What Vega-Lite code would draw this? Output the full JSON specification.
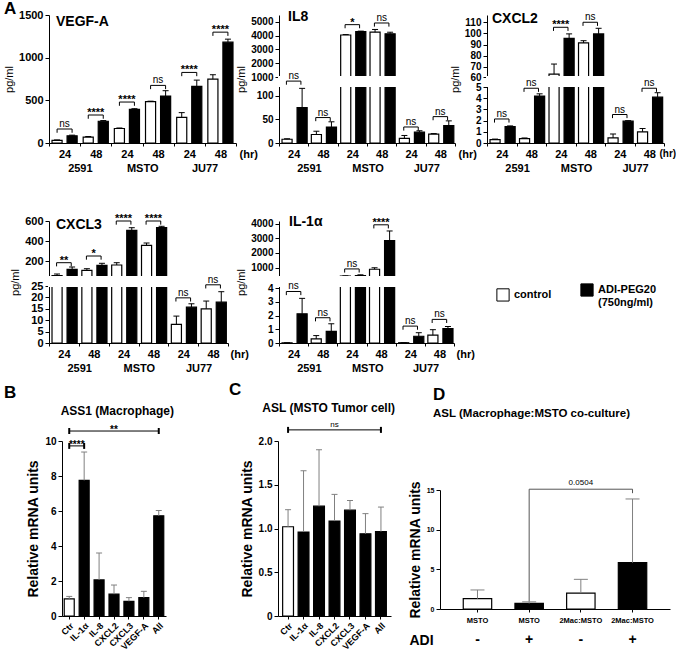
{
"$schema": "https://vega.github.io/schema/vega-lite/v6.json",
"padding": {"left": 3, "top": 0, "right": 0, "bottom": 0},
"config": {
  "font": "Liberation Sans",
  "view": {"stroke": null},
  "axis": {"domainColor": "black", "tickColor": "black", "labelColor": "black", "titleColor": "black", "labelFontWeight": "bold", "labelFontSize": 11, "titleFontWeight": "normal", "titleFontSize": 11, "grid": false, "tickSize": 4, "labelPadding": 2, "labelOverlap": false, "labelSeparation": -30, "labelFlush": false},
  "title": {"color": "black", "fontWeight": "bold", "fontSize": 14, "subtitleColor": "black", "subtitleFontWeight": "bold", "subtitleFontSize": 12, "subtitlePadding": 4},
  "legend": {"labelColor": "black"},
  "text": {"color": "black"}
},
"datasets": {
  "A": [
    {"p": "VEGF-A", "k": "2591 24", "g": "control", "v": 30, "hi": 36},
    {"p": "VEGF-A", "k": "2591 24", "g": "ADI-PEG20", "v": 85, "hi": 92},
    {"p": "VEGF-A", "k": "2591 48", "g": "control", "v": 70, "hi": 76},
    {"p": "VEGF-A", "k": "2591 48", "g": "ADI-PEG20", "v": 255, "hi": 263},
    {"p": "VEGF-A", "k": "MSTO 24", "g": "control", "v": 170, "hi": 176},
    {"p": "VEGF-A", "k": "MSTO 24", "g": "ADI-PEG20", "v": 394, "hi": 402},
    {"p": "VEGF-A", "k": "MSTO 48", "g": "control", "v": 485, "hi": 490},
    {"p": "VEGF-A", "k": "MSTO 48", "g": "ADI-PEG20", "v": 550, "hi": 613},
    {"p": "VEGF-A", "k": "JU77 24", "g": "control", "v": 300, "hi": 356},
    {"p": "VEGF-A", "k": "JU77 24", "g": "ADI-PEG20", "v": 663, "hi": 737},
    {"p": "VEGF-A", "k": "JU77 48", "g": "control", "v": 749, "hi": 800},
    {"p": "VEGF-A", "k": "JU77 48", "g": "ADI-PEG20", "v": 1182, "hi": 1217},
    {"p": "IL8", "k": "2591 24", "g": "control", "v": 8, "hi": 9},
    {"p": "IL8", "k": "2591 24", "g": "ADI-PEG20", "v": 75, "hi": 116},
    {"p": "IL8", "k": "2591 48", "g": "control", "v": 18, "hi": 25},
    {"p": "IL8", "k": "2591 48", "g": "ADI-PEG20", "v": 34, "hi": 45},
    {"p": "IL8", "k": "MSTO 24", "g": "control", "v": 4050, "hi": 4080},
    {"p": "IL8", "k": "MSTO 24", "g": "ADI-PEG20", "v": 4300, "hi": 4330},
    {"p": "IL8", "k": "MSTO 48", "g": "control", "v": 4250, "hi": 4450},
    {"p": "IL8", "k": "MSTO 48", "g": "ADI-PEG20", "v": 4140, "hi": 4250},
    {"p": "IL8", "k": "JU77 24", "g": "control", "v": 10, "hi": 16},
    {"p": "IL8", "k": "JU77 24", "g": "ADI-PEG20", "v": 23, "hi": 26},
    {"p": "IL8", "k": "JU77 48", "g": "control", "v": 19, "hi": 20},
    {"p": "IL8", "k": "JU77 48", "g": "ADI-PEG20", "v": 37, "hi": 47},
    {"p": "CXCL2", "k": "2591 24", "g": "control", "v": 0.3, "hi": 0.35},
    {"p": "CXCL2", "k": "2591 24", "g": "ADI-PEG20", "v": 1.47, "hi": 1.53},
    {"p": "CXCL2", "k": "2591 48", "g": "control", "v": 0.4, "hi": 0.45},
    {"p": "CXCL2", "k": "2591 48", "g": "ADI-PEG20", "v": 4.2, "hi": 4.4},
    {"p": "CXCL2", "k": "MSTO 24", "g": "control", "v": 63.6, "hi": 72.6},
    {"p": "CXCL2", "k": "MSTO 24", "g": "ADI-PEG20", "v": 95.6, "hi": 99.6},
    {"p": "CXCL2", "k": "MSTO 48", "g": "control", "v": 91.5, "hi": 93.5},
    {"p": "CXCL2", "k": "MSTO 48", "g": "ADI-PEG20", "v": 99.6, "hi": 104.6},
    {"p": "CXCL2", "k": "JU77 24", "g": "control", "v": 0.45, "hi": 0.8},
    {"p": "CXCL2", "k": "JU77 24", "g": "ADI-PEG20", "v": 1.95, "hi": 2.0},
    {"p": "CXCL2", "k": "JU77 48", "g": "control", "v": 1.0, "hi": 1.3},
    {"p": "CXCL2", "k": "JU77 48", "g": "ADI-PEG20", "v": 4.1, "hi": 4.5},
    {"p": "CXCL3", "k": "2591 24", "g": "control", "v": 55, "hi": 70},
    {"p": "CXCL3", "k": "2591 24", "g": "ADI-PEG20", "v": 117, "hi": 140},
    {"p": "CXCL3", "k": "2591 48", "g": "control", "v": 107, "hi": 123},
    {"p": "CXCL3", "k": "2591 48", "g": "ADI-PEG20", "v": 157, "hi": 177},
    {"p": "CXCL3", "k": "MSTO 24", "g": "control", "v": 160, "hi": 183},
    {"p": "CXCL3", "k": "MSTO 24", "g": "ADI-PEG20", "v": 507, "hi": 533},
    {"p": "CXCL3", "k": "MSTO 48", "g": "control", "v": 357, "hi": 380},
    {"p": "CXCL3", "k": "MSTO 48", "g": "ADI-PEG20", "v": 533, "hi": 547},
    {"p": "CXCL3", "k": "JU77 24", "g": "control", "v": 8.2, "hi": 11.8},
    {"p": "CXCL3", "k": "JU77 24", "g": "ADI-PEG20", "v": 15.7, "hi": 17.2},
    {"p": "CXCL3", "k": "JU77 48", "g": "control", "v": 15, "hi": 18.4},
    {"p": "CXCL3", "k": "JU77 48", "g": "ADI-PEG20", "v": 17.9, "hi": 22.5},
    {"p": "IL1a", "k": "2591 24", "g": "control", "v": 0.02, "hi": 0.02},
    {"p": "IL1a", "k": "2591 24", "g": "ADI-PEG20", "v": 2.13, "hi": 3.25},
    {"p": "IL1a", "k": "2591 48", "g": "control", "v": 0.3, "hi": 0.54},
    {"p": "IL1a", "k": "2591 48", "g": "ADI-PEG20", "v": 0.84, "hi": 1.4},
    {"p": "IL1a", "k": "MSTO 24", "g": "control", "v": 420, "hi": 440},
    {"p": "IL1a", "k": "MSTO 24", "g": "ADI-PEG20", "v": 450, "hi": 510},
    {"p": "IL1a", "k": "MSTO 48", "g": "control", "v": 890, "hi": 990},
    {"p": "IL1a", "k": "MSTO 48", "g": "ADI-PEG20", "v": 2850, "hi": 3500},
    {"p": "IL1a", "k": "JU77 24", "g": "control", "v": 0.02, "hi": 0.02},
    {"p": "IL1a", "k": "JU77 24", "g": "ADI-PEG20", "v": 0.49, "hi": 0.75},
    {"p": "IL1a", "k": "JU77 48", "g": "control", "v": 0.57, "hi": 0.97},
    {"p": "IL1a", "k": "JU77 48", "g": "ADI-PEG20", "v": 1.05, "hi": 1.2}
  ],
  "Abr": [
    {"p": "VEGF-A", "k": "2591 24", "y": 164, "t": "ns"},
    {"p": "VEGF-A", "k": "2591 48", "y": 328, "t": "****"},
    {"p": "VEGF-A", "k": "MSTO 24", "y": 480, "t": "****"},
    {"p": "VEGF-A", "k": "MSTO 48", "y": 675, "t": "ns"},
    {"p": "VEGF-A", "k": "JU77 24", "y": 827, "t": "****"},
    {"p": "VEGF-A", "k": "JU77 48", "y": 1299, "t": "****"},
    {"p": "IL8", "k": "2591 24", "y": 600, "t": "ns"},
    {"p": "IL8", "k": "2591 48", "y": 54, "t": "ns"},
    {"p": "IL8", "k": "MSTO 24", "y": 4800, "t": "*"},
    {"p": "IL8", "k": "MSTO 48", "y": 4920, "t": "ns"},
    {"p": "IL8", "k": "JU77 24", "y": 34, "t": "ns"},
    {"p": "IL8", "k": "JU77 48", "y": 56, "t": "ns"},
    {"p": "CXCL2", "k": "2591 24", "y": 2.15, "t": "ns"},
    {"p": "CXCL2", "k": "2591 48", "y": 4.9, "t": "ns"},
    {"p": "CXCL2", "k": "MSTO 24", "y": 105.5, "t": "****"},
    {"p": "CXCL2", "k": "MSTO 48", "y": 110, "t": "ns"},
    {"p": "CXCL2", "k": "JU77 24", "y": 2.55, "t": "ns"},
    {"p": "CXCL2", "k": "JU77 48", "y": 4.9, "t": "ns"},
    {"p": "CXCL3", "k": "2591 24", "y": 183, "t": "**"},
    {"p": "CXCL3", "k": "2591 48", "y": 250, "t": "*"},
    {"p": "CXCL3", "k": "MSTO 24", "y": 600, "t": "****"},
    {"p": "CXCL3", "k": "MSTO 48", "y": 600, "t": "****"},
    {"p": "CXCL3", "k": "JU77 24", "y": 19.8, "t": "ns"},
    {"p": "CXCL3", "k": "JU77 48", "y": 27, "t": "ns"},
    {"p": "IL1a", "k": "2591 24", "y": 3.75, "t": "ns"},
    {"p": "IL1a", "k": "2591 48", "y": 1.84, "t": "ns"},
    {"p": "IL1a", "k": "MSTO 24", "y": 910, "t": "ns"},
    {"p": "IL1a", "k": "MSTO 48", "y": 3920, "t": "****"},
    {"p": "IL1a", "k": "JU77 24", "y": 1.23, "t": "ns"},
    {"p": "IL1a", "k": "JU77 48", "y": 1.72, "t": "ns"}
  ],
  "B": [
    {"k": "Ctr", "g": "control", "v": 0.98, "hi": 1.12},
    {"k": "IL-1α", "g": "ADI-PEG20", "v": 7.75, "hi": 9.37},
    {"k": "IL-8", "g": "ADI-PEG20", "v": 2.06, "hi": 3.6},
    {"k": "CXCL2", "g": "ADI-PEG20", "v": 1.25, "hi": 1.77},
    {"k": "CXCL3", "g": "ADI-PEG20", "v": 0.84, "hi": 1.05},
    {"k": "VEGF-A", "g": "ADI-PEG20", "v": 1.05, "hi": 1.41},
    {"k": "All", "g": "ADI-PEG20", "v": 5.73, "hi": 6.03}
  ],
  "C": [
    {"k": "Ctr", "g": "control", "v": 1.02, "hi": 1.215},
    {"k": "IL-1α", "g": "ADI-PEG20", "v": 0.96, "hi": 1.66},
    {"k": "IL-8", "g": "ADI-PEG20", "v": 1.255, "hi": 1.9},
    {"k": "CXCL2", "g": "ADI-PEG20", "v": 1.085, "hi": 1.39},
    {"k": "CXCL3", "g": "ADI-PEG20", "v": 1.21, "hi": 1.32},
    {"k": "VEGF-A", "g": "ADI-PEG20", "v": 0.94, "hi": 1.17},
    {"k": "All", "g": "ADI-PEG20", "v": 0.965, "hi": 1.245}
  ],
  "D": [
    {"k": "MSTO -", "g": "control", "adi": "-", "v": 1.3, "hi": 2.4},
    {"k": "MSTO +", "g": "ADI-PEG20", "adi": "+", "v": 0.7, "hi": 0.9},
    {"k": "2Mac:MSTO -", "g": "control", "adi": "-", "v": 2.0, "hi": 3.74},
    {"k": "2Mac:MSTO +", "g": "ADI-PEG20", "adi": "+", "v": 5.84, "hi": 13.87}
  ]
},
"resolve": {"scale": {"fill": "independent"}, "legend": {"fill": "independent"}},
"spacing": 7,
"vconcat": [
 {
  "spacing": 40,
  "resolve": {"scale": {"fill": "independent"}, "legend": {"fill": "independent"}},
  "vconcat": [
   {
    "hconcat": [
     {
      "width": 200, "height": 128,
      "title": {"text": "VEGF-A", "anchor": "start", "frame": "group", "dx": 7, "dy": 20, "offset": 0},
      "layer": [
         {"data": {"name": "A"}, "transform": [{"filter": "datum.p == 'VEGF-A'"}],
          "encoding": {
            "x": {"field": "k", "type": "nominal", "scale": {"domain": ["2591 24", "2591 48", "MSTO 24", "MSTO 48", "JU77 24", "JU77 48"], "range": [0, 187], "paddingInner": 0, "paddingOuter": 0},
                  "axis": {"title": "(hr)", "labelExpr": "split(datum.label, ' ')[1] == '24' ? ['24', '\u200b\u00a0\u00a0\u00a0\u00a0\u00a0\u00a0\u00a0\u00a0\u00a0\u00a0' + split(datum.label, ' ')[0]] : split(datum.label, ' ')[1]", "labelLineHeight": 14, "labelAngle": 0, "tickBand": "extent", "tickSize": 3, "titleX": 190, "titleY": 5, "titleAlign": "left", "titleBaseline": "top", "titleFontWeight": "bold"}},
            "xOffset": {"field": "g", "type": "nominal", "scale": {"domain": ["control", "ADI-PEG20"], "paddingInner": 0.33, "paddingOuter": 0.2}}
          },
          "layer": [
            {"mark": {"type": "bar", "stroke": "black", "strokeWidth": 1.2, "opacity": 1},
             "encoding": {"y": {"field": "v", "type": "quantitative", "stack": null, "scale": {"domain": [0, 1500], "nice": false}, "axis": {"values": [0, 500, 1000, 1500], "tickCount": 30, "format": "d", "labelOverlap": false, "title": "pg/ml"}},
                          "fill": {"field": "g", "type": "nominal", "scale": {"domain": ["control", "ADI-PEG20"], "range": ["white", "black"]}, "legend": null}}},
            {"mark": {"type": "rule", "color": "black"}, "encoding": {"y": {"field": "v", "type": "quantitative"}, "y2": {"field": "hi"}}},
            {"mark": {"type": "tick", "color": "black", "size": 6, "thickness": 1, "opacity": 1}, "encoding": {"y": {"field": "hi", "type": "quantitative"}}}
          ]},
         {"data": {"name": "Abr"}, "transform": [{"filter": "datum.p == 'VEGF-A'"}],
          "encoding": {"x": {"field": "k", "type": "nominal"}, "y": {"field": "y", "type": "quantitative"}},
          "layer": [
            {"mark": {"type": "point", "shape": "M-1,0.5V0H1V0.5", "size": 225, "filled": false, "color": "black", "strokeWidth": 1, "opacity": 1}},
            {"transform": [{"filter": "datum.t == 'ns'"}], "mark": {"type": "text", "fontSize": 10, "dy": -2, "baseline": "alphabetic"}, "encoding": {"text": {"field": "t"}}},
            {"transform": [{"filter": "datum.t != 'ns'"}], "mark": {"type": "text", "fontSize": 11, "fontWeight": "bold", "dy": 1, "baseline": "alphabetic"}, "encoding": {"text": {"field": "t"}}}
          ]}
      ]
     },
     {
      "width": 178, "height": 128,
      "title": {"text": "IL8", "anchor": "start", "frame": "group", "dx": 9, "dy": 11, "offset": 0},
      "layer": [
         {"data": {"name": "A"}, "transform": [{"filter": "datum.p == 'IL8'"}],
          "encoding": {
            "x": {"field": "k", "type": "nominal", "scale": {"domain": ["2591 24", "2591 48", "MSTO 24", "MSTO 48", "JU77 24", "JU77 48"], "range": [0, 176], "paddingInner": 0, "paddingOuter": 0},
                  "axis": {"title": "(hr)", "labelExpr": "split(datum.label, ' ')[1] == '24' ? ['24', '\u200b\u00a0\u00a0\u00a0\u00a0\u00a0\u00a0\u00a0\u00a0\u00a0\u00a0' + split(datum.label, ' ')[0]] : split(datum.label, ' ')[1]", "labelLineHeight": 14, "labelAngle": 0, "tickBand": "extent", "tickSize": 3, "titleX": 179, "titleY": 5, "titleAlign": "left", "titleBaseline": "top", "titleFontWeight": "bold"}},
            "xOffset": {"field": "g", "type": "nominal", "scale": {"domain": ["control", "ADI-PEG20"], "paddingInner": 0.33, "paddingOuter": 0.2}}
          },
          "layer": [
            {"mark": {"type": "bar", "stroke": "black", "strokeWidth": 1.2, "opacity": 1},
             "encoding": {"y": {"field": "v", "type": "quantitative", "stack": null, "scale": {"domain": [0, 121, 1000, 5500], "range": [128, 71, 62, 0], "nice": false, "zero": false}, "axis": {"values": [0, 50, 100, 1000, 2000, 3000, 4000, 5000], "tickCount": 30, "format": "d", "labelOverlap": false, "labelFontSize": 10, "title": "pg/ml"}},
                          "fill": {"field": "g", "type": "nominal", "scale": {"domain": ["control", "ADI-PEG20"], "range": ["white", "black"]}, "legend": null}}},
            {"mark": {"type": "rule", "color": "black"}, "encoding": {"y": {"field": "v", "type": "quantitative"}, "y2": {"field": "hi"}}},
            {"mark": {"type": "tick", "color": "black", "size": 6, "thickness": 1, "opacity": 1}, "encoding": {"y": {"field": "hi", "type": "quantitative"}}}
          ]},
         {"data": {"values": [{}]}, "mark": {"type": "rect", "fill": "white", "stroke": "white", "strokeWidth": 2}, "encoding": {"y": {"datum": 121}, "y2": {"datum": 1000}}},
         {"data": {"name": "Abr"}, "transform": [{"filter": "datum.p == 'IL8'"}],
          "encoding": {"x": {"field": "k", "type": "nominal"}, "y": {"field": "y", "type": "quantitative"}},
          "layer": [
            {"mark": {"type": "point", "shape": "M-1,0.5V0H1V0.5", "size": 210, "filled": false, "color": "black", "strokeWidth": 1, "opacity": 1}},
            {"transform": [{"filter": "datum.t == 'ns'"}], "mark": {"type": "text", "fontSize": 10, "dy": -2, "baseline": "alphabetic"}, "encoding": {"text": {"field": "t"}}},
            {"transform": [{"filter": "datum.t != 'ns'"}], "mark": {"type": "text", "fontSize": 11, "fontWeight": "bold", "dy": 1, "baseline": "alphabetic"}, "encoding": {"text": {"field": "t"}}}
          ]}
      ]
     },
     {
      "width": 177, "height": 128,
      "title": {"text": "CXCL2", "anchor": "start", "frame": "group", "dx": 5, "dy": 14, "offset": 0},
      "layer": [
         {"data": {"name": "A"}, "transform": [{"filter": "datum.p == 'CXCL2'"}],
          "encoding": {
            "x": {"field": "k", "type": "nominal", "scale": {"domain": ["2591 24", "2591 48", "MSTO 24", "MSTO 48", "JU77 24", "JU77 48"], "range": [0, 177], "paddingInner": 0, "paddingOuter": 0},
                  "axis": {"title": "(hr)", "labelExpr": "split(datum.label, ' ')[1] == '24' ? ['24', '\u200b\u00a0\u00a0\u00a0\u00a0\u00a0\u00a0\u00a0\u00a0\u00a0\u00a0' + split(datum.label, ' ')[0]] : split(datum.label, ' ')[1]", "labelLineHeight": 14, "labelAngle": 0, "tickBand": "extent", "tickSize": 3, "titleX": 172, "titleY": 5, "titleAlign": "left", "titleBaseline": "top", "titleFontWeight": "bold", "titleFontSize": 10}},
            "xOffset": {"field": "g", "type": "nominal", "scale": {"domain": ["control", "ADI-PEG20"], "paddingInner": 0.33, "paddingOuter": 0.2}}
          },
          "layer": [
            {"mark": {"type": "bar", "stroke": "black", "strokeWidth": 1.2, "opacity": 1},
             "encoding": {"y": {"field": "v", "type": "quantitative", "stack": null, "scale": {"domain": [0, 5.1, 61, 116.5], "range": [128, 71, 62, 0], "nice": false, "zero": false}, "axis": {"values": [0, 1, 2, 3, 4, 5, 60, 70, 80, 90, 100, 110], "tickCount": 30, "format": "d", "labelOverlap": false, "labelFontSize": 10, "title": "pg/ml"}},
                          "fill": {"field": "g", "type": "nominal", "scale": {"domain": ["control", "ADI-PEG20"], "range": ["white", "black"]}, "legend": null}}},
            {"mark": {"type": "rule", "color": "black"}, "encoding": {"y": {"field": "v", "type": "quantitative"}, "y2": {"field": "hi"}}},
            {"mark": {"type": "tick", "color": "black", "size": 6, "thickness": 1, "opacity": 1}, "encoding": {"y": {"field": "hi", "type": "quantitative"}}}
          ]},
         {"data": {"values": [{}]}, "mark": {"type": "rect", "fill": "white", "stroke": "white", "strokeWidth": 2}, "encoding": {"y": {"datum": 5.1}, "y2": {"datum": 61}}},
         {"data": {"name": "Abr"}, "transform": [{"filter": "datum.p == 'CXCL2'"}],
          "encoding": {"x": {"field": "k", "type": "nominal"}, "y": {"field": "y", "type": "quantitative"}},
          "layer": [
            {"mark": {"type": "point", "shape": "M-1,0.5V0H1V0.5", "size": 210, "filled": false, "color": "black", "strokeWidth": 1, "opacity": 1}},
            {"transform": [{"filter": "datum.t == 'ns'"}], "mark": {"type": "text", "fontSize": 10, "dy": -2, "baseline": "alphabetic"}, "encoding": {"text": {"field": "t"}}},
            {"transform": [{"filter": "datum.t != 'ns'"}], "mark": {"type": "text", "fontSize": 11, "fontWeight": "bold", "dy": 1, "baseline": "alphabetic"}, "encoding": {"text": {"field": "t"}}}
          ]}
      ]
     }
    ],
    "bounds": "flush",
    "spacing": 30,
    "title": {"text": "A", "anchor": "start", "frame": "group", "dx": -45, "fontSize": 17, "offset": -9},
    "resolve": {"scale": {"fill": "independent"}, "legend": {"fill": "independent"}}
   },
   {
    "hconcat": [
     {
      "width": 200, "height": 122,
      "title": {"text": "CXCL3", "anchor": "start", "frame": "group", "dx": 7, "dy": 19, "offset": 0},
      "layer": [
         {"data": {"name": "A"}, "transform": [{"filter": "datum.p == 'CXCL3'"}],
          "encoding": {
            "x": {"field": "k", "type": "nominal", "scale": {"domain": ["2591 24", "2591 48", "MSTO 24", "MSTO 48", "JU77 24", "JU77 48"], "range": [0, 179], "paddingInner": 0, "paddingOuter": 0},
                  "axis": {"title": "(hr)", "labelExpr": "split(datum.label, ' ')[1] == '24' ? ['24', '\u200b\u00a0\u00a0\u00a0\u00a0\u00a0\u00a0\u00a0\u00a0\u00a0\u00a0' + split(datum.label, ' ')[0]] : split(datum.label, ' ')[1]", "labelLineHeight": 14, "labelAngle": 0, "tickBand": "extent", "tickSize": 3, "titleX": 181, "titleY": 5, "titleAlign": "left", "titleBaseline": "top", "titleFontWeight": "bold"}},
            "xOffset": {"field": "g", "type": "nominal", "scale": {"domain": ["control", "ADI-PEG20"], "paddingInner": 0.33, "paddingOuter": 0.2}}
          },
          "layer": [
            {"mark": {"type": "bar", "stroke": "black", "strokeWidth": 1.2, "opacity": 1},
             "encoding": {"y": {"field": "v", "type": "quantitative", "stack": null, "scale": {"domain": [0, 25, 40, 600], "range": [122, 65, 56, 0], "nice": false, "zero": false}, "axis": {"values": [0, 5, 10, 15, 20, 25, 200, 400, 600], "tickCount": 30, "format": "d", "labelOverlap": false, "title": "pg/ml"}},
                          "fill": {"field": "g", "type": "nominal", "scale": {"domain": ["control", "ADI-PEG20"], "range": ["white", "black"]}, "legend": null}}},
            {"mark": {"type": "rule", "color": "black"}, "encoding": {"y": {"field": "v", "type": "quantitative"}, "y2": {"field": "hi"}}},
            {"mark": {"type": "tick", "color": "black", "size": 6, "thickness": 1, "opacity": 1}, "encoding": {"y": {"field": "hi", "type": "quantitative"}}}
          ]},
         {"data": {"values": [{}]}, "mark": {"type": "rect", "fill": "white", "stroke": "white", "strokeWidth": 2}, "encoding": {"y": {"datum": 25}, "y2": {"datum": 40}}},
         {"data": {"name": "Abr"}, "transform": [{"filter": "datum.p == 'CXCL3'"}],
          "encoding": {"x": {"field": "k", "type": "nominal"}, "y": {"field": "y", "type": "quantitative"}},
          "layer": [
            {"mark": {"type": "point", "shape": "M-1,0.5V0H1V0.5", "size": 215, "filled": false, "color": "black", "strokeWidth": 1, "opacity": 1}},
            {"transform": [{"filter": "datum.t == 'ns'"}], "mark": {"type": "text", "fontSize": 10, "dy": -2, "baseline": "alphabetic"}, "encoding": {"text": {"field": "t"}}},
            {"transform": [{"filter": "datum.t != 'ns'"}], "mark": {"type": "text", "fontSize": 11, "fontWeight": "bold", "dy": 1, "baseline": "alphabetic"}, "encoding": {"text": {"field": "t"}}}
          ]}
      ]
     },
     {
      "width": 178, "height": 122,
      "title": {"text": "IL-1α", "anchor": "start", "frame": "group", "dx": 10, "dy": 12, "offset": 0},
      "layer": [
         {"data": {"name": "A"}, "transform": [{"filter": "datum.p == 'IL1a'"}],
          "encoding": {
            "x": {"field": "k", "type": "nominal", "scale": {"domain": ["2591 24", "2591 48", "MSTO 24", "MSTO 48", "JU77 24", "JU77 48"], "range": [0, 175], "paddingInner": 0, "paddingOuter": 0},
                  "axis": {"title": "(hr)", "labelExpr": "split(datum.label, ' ')[1] == '24' ? ['24', '\u200b\u00a0\u00a0\u00a0\u00a0\u00a0\u00a0\u00a0\u00a0\u00a0\u00a0' + split(datum.label, ' ')[0]] : split(datum.label, ' ')[1]", "labelLineHeight": 14, "labelAngle": 0, "tickBand": "extent", "tickSize": 3, "titleX": 177, "titleY": 5, "titleAlign": "left", "titleBaseline": "top", "titleFontWeight": "bold"}},
            "xOffset": {"field": "g", "type": "nominal", "scale": {"domain": ["control", "ADI-PEG20"], "paddingInner": 0.33, "paddingOuter": 0.2}}
          },
          "layer": [
            {"mark": {"type": "bar", "stroke": "black", "strokeWidth": 1.2, "opacity": 1},
             "encoding": {"y": {"field": "v", "type": "quantitative", "stack": null, "scale": {"domain": [0, 4.15, 360, 4180], "range": [122, 65, 56, 0], "nice": false, "zero": false}, "axis": {"values": [0, 1, 2, 3, 4, 1000, 2000, 3000, 4000], "tickCount": 30, "format": "d", "labelOverlap": false, "labelFontSize": 10, "title": "pg/ml"}},
                          "fill": {"field": "g", "type": "nominal", "scale": {"domain": ["control", "ADI-PEG20"], "range": ["white", "black"]},
                                   "legend": {"orient": "none", "legendX": 217, "legendY": 62, "direction": "horizontal", "title": null, "symbolType": "square", "symbolSize": 150, "symbolStrokeColor": "black", "symbolStrokeWidth": 1, "labelFontSize": 11, "labelFontWeight": "bold", "columnPadding": 26, "labelExpr": "datum.label == 'ADI-PEG20' ? ['ADI-PEG20', '(750ng/ml)'] : datum.label"}}}},
            {"mark": {"type": "rule", "color": "black"}, "encoding": {"y": {"field": "v", "type": "quantitative"}, "y2": {"field": "hi"}}},
            {"mark": {"type": "tick", "color": "black", "size": 6, "thickness": 1, "opacity": 1}, "encoding": {"y": {"field": "hi", "type": "quantitative"}}}
          ]},
         {"data": {"values": [{}]}, "mark": {"type": "rect", "fill": "white", "stroke": "white", "strokeWidth": 2}, "encoding": {"y": {"datum": 4.15}, "y2": {"datum": 360}}},
         {"data": {"name": "Abr"}, "transform": [{"filter": "datum.p == 'IL1a'"}],
          "encoding": {"x": {"field": "k", "type": "nominal"}, "y": {"field": "y", "type": "quantitative"}},
          "layer": [
            {"mark": {"type": "point", "shape": "M-1,0.5V0H1V0.5", "size": 210, "filled": false, "color": "black", "strokeWidth": 1, "opacity": 1}},
            {"transform": [{"filter": "datum.t == 'ns'"}], "mark": {"type": "text", "fontSize": 10, "dy": -2, "baseline": "alphabetic"}, "encoding": {"text": {"field": "t"}}},
            {"transform": [{"filter": "datum.t != 'ns'"}], "mark": {"type": "text", "fontSize": 11, "fontWeight": "bold", "dy": 1, "baseline": "alphabetic"}, "encoding": {"text": {"field": "t"}}}
          ]}
      ]
     }
    ],
    "bounds": "flush",
    "spacing": 30,
    "resolve": {"scale": {"fill": "independent"}, "legend": {"fill": "independent"}}
   }
  ]
 },
 {
  "hconcat": [
   {
    "width": 209, "height": 175,
    "title": {"text": "B", "subtitle": "\u200b\u00a0\u00a0\u00a0\u00a0\u00a0\u00a0\u00a0\u00a0\u00a0\u00a0\u00a0\u00a0\u00a0\u00a0\u00a0\u00a0\u00a0ASS1 (Macrophage)", "anchor": "start", "frame": "group", "dx": -45, "fontSize": 17, "offset": 6},
    "layer": [
       {"data": {"name": "B"},
        "encoding": {"x": {"field": "k", "type": "nominal", "scale": {"domain": ["Ctr", "IL-1α", "IL-8", "CXCL2", "CXCL3", "VEGF-A", "All"], "range": [13, 117], "paddingInner": 0.33, "paddingOuter": 0.15}, "axis": {"title": null, "labelAngle": -45, "labelFontSize": 9, "tickSize": 3}}},
        "layer": [
          {"mark": {"type": "bar", "stroke": "black", "strokeWidth": 1.2, "opacity": 1},
           "encoding": {"y": {"field": "v", "type": "quantitative", "stack": null, "scale": {"domain": [0, 10], "nice": false}, "axis": {"values": [0, 2, 4, 6, 8, 10], "tickCount": 30, "format": "d", "labelOverlap": false, "offset": -13, "title": "Relative mRNA units", "titleFontSize": 14, "titleFontWeight": "bold", "labelFontSize": 10}},
                        "fill": {"field": "g", "type": "nominal", "scale": {"domain": ["control", "ADI-PEG20"], "range": ["white", "black"]}, "legend": null}}},
          {"mark": {"type": "rule", "color": "#808080"}, "encoding": {"y": {"field": "v", "type": "quantitative"}, "y2": {"field": "hi"}}},
          {"mark": {"type": "tick", "color": "#808080", "size": 6, "thickness": 1, "opacity": 1}, "encoding": {"y": {"field": "hi", "type": "quantitative"}}}
        ]},
       {"data": {"values": [{"a": "Ctr", "b": "IL-1α", "y": 9.72}, {"a": "Ctr", "b": "All", "y": 10.57}]},
        "encoding": {"y": {"field": "y", "type": "quantitative"}},
        "layer": [
          {"mark": {"type": "rule", "color": "black"}, "encoding": {"x": {"field": "a", "type": "nominal"}, "x2": {"field": "b"}}},
          {"mark": {"type": "point", "shape": "M0,-1V1", "size": 36, "filled": false, "color": "black", "opacity": 1}, "encoding": {"x": {"field": "a", "type": "nominal"}}},
          {"mark": {"type": "point", "shape": "M0,-1V1", "size": 36, "filled": false, "color": "black", "opacity": 1}, "encoding": {"x": {"field": "b", "type": "nominal"}}}
        ]},
       {"data": {"values": [{"x": "CXCL2", "y": 10.57, "t": "**"}]}, "mark": {"type": "text", "fontSize": 10, "fontWeight": "bold", "dy": 2, "baseline": "alphabetic"},
        "encoding": {"x": {"field": "x", "type": "nominal"}, "y": {"field": "y", "type": "quantitative"}, "text": {"field": "t"}}},
       {"data": {"values": [{"x": "Ctr", "y": 9.72, "t": "****"}]}, "mark": {"type": "text", "fontSize": 10, "fontWeight": "bold", "dy": 2, "dx": 7.5, "baseline": "alphabetic"},
        "encoding": {"x": {"field": "x", "type": "nominal"}, "y": {"field": "y", "type": "quantitative"}, "text": {"field": "t"}}}
    ]
   },
   {
    "width": 142, "height": 175,
    "title": {"text": "C", "subtitle": "\u200b\u00a0\u00a0\u00a0\u00a0\u00a0\u00a0\u00a0\u00a0\u00a0\u00a0ASL (MSTO Tumor cell)", "anchor": "start", "frame": "group", "dx": -49, "fontSize": 17, "offset": 6},
    "layer": [
       {"data": {"name": "C"},
        "encoding": {"x": {"field": "k", "type": "nominal", "scale": {"domain": ["Ctr", "IL-1α", "IL-8", "CXCL2", "CXCL3", "VEGF-A", "All"], "range": [0, 113], "paddingInner": 0.3, "paddingOuter": 0.3}, "axis": {"title": null, "labelAngle": -45, "labelFontSize": 9, "tickSize": 3}}},
        "layer": [
          {"mark": {"type": "bar", "stroke": "black", "strokeWidth": 1.2, "opacity": 1},
           "encoding": {"y": {"field": "v", "type": "quantitative", "stack": null, "scale": {"domain": [0, 2], "nice": false}, "axis": {"values": [0, 0.5, 1, 1.5, 2], "tickCount": 30, "labelOverlap": false, "labelExpr": "datum.value == 0 ? '0' : format(datum.value, '.1f')", "title": "Relative mRNA units", "titleFontSize": 14, "titleFontWeight": "bold", "labelFontSize": 10}},
                        "fill": {"field": "g", "type": "nominal", "scale": {"domain": ["control", "ADI-PEG20"], "range": ["white", "black"]}, "legend": null}}},
          {"mark": {"type": "rule", "color": "#808080"}, "encoding": {"y": {"field": "v", "type": "quantitative"}, "y2": {"field": "hi"}}},
          {"mark": {"type": "tick", "color": "#808080", "size": 6, "thickness": 1, "opacity": 1}, "encoding": {"y": {"field": "hi", "type": "quantitative"}}}
        ]},
       {"data": {"values": [{"a": "Ctr", "b": "All", "y": 2.127}]},
        "encoding": {"y": {"field": "y", "type": "quantitative"}},
        "layer": [
          {"mark": {"type": "rule", "color": "black"}, "encoding": {"x": {"field": "a", "type": "nominal"}, "x2": {"field": "b"}}},
          {"mark": {"type": "point", "shape": "M0,-1V1", "size": 36, "filled": false, "color": "black", "opacity": 1}, "encoding": {"x": {"field": "a", "type": "nominal"}}},
          {"mark": {"type": "point", "shape": "M0,-1V1", "size": 36, "filled": false, "color": "black", "opacity": 1}, "encoding": {"x": {"field": "b", "type": "nominal"}}}
        ]},
       {"data": {"values": [{"x": "CXCL2", "y": 2.127, "t": "ns"}]}, "mark": {"type": "text", "fontSize": 8, "dy": -3, "baseline": "alphabetic"},
        "encoding": {"x": {"field": "x", "type": "nominal"}, "y": {"field": "y", "type": "quantitative"}, "text": {"field": "t"}}}
    ]
   },
   {
    "width": 230, "height": 168,
    "title": {"text": "D", "subtitle": "ASL (Macrophage:MSTO co-culture)", "anchor": "start", "frame": "group", "dx": -7, "fontSize": 17, "offset": 21, "subtitleFontSize": 11.5},
    "layer": [
       {"data": {"name": "D"},
        "encoding": {"x": {"field": "k", "type": "nominal", "scale": {"domain": ["MSTO -", "MSTO +", "2Mac:MSTO -", "2Mac:MSTO +"], "range": [0, 230], "paddingInner": 0.45, "paddingOuter": 0.45}, "axis": {"title": "ADI", "titleX": -19, "titleY": 31, "titleAngle": 0, "titleAlign": "center", "titleBaseline": "middle", "titleFontSize": 14, "titleFontWeight": "bold", "labelAngle": 0, "labelFontSize": 7.5, "tickSize": 3, "labelPadding": 4, "labelExpr": "split(datum.label, ' ')[0]"}}},
        "layer": [
          {"mark": {"type": "bar", "stroke": "black", "strokeWidth": 1.2, "opacity": 1},
           "encoding": {"y": {"field": "v", "type": "quantitative", "stack": null, "scale": {"domain": [0, 15], "range": [168, 49], "nice": false}, "axis": {"values": [0, 5, 10, 15], "tickCount": 30, "format": "d", "labelOverlap": false, "title": "Relative mRNA units", "titleFontSize": 14, "titleFontWeight": "bold", "labelFontSize": 7}},
                        "fill": {"field": "g", "type": "nominal", "scale": {"domain": ["control", "ADI-PEG20"], "range": ["white", "black"]}, "legend": null}}},
          {"mark": {"type": "rule", "color": "#808080"}, "encoding": {"y": {"field": "v", "type": "quantitative"}, "y2": {"field": "hi"}}},
          {"mark": {"type": "tick", "color": "#808080", "size": 14, "thickness": 1, "opacity": 1}, "encoding": {"y": {"field": "hi", "type": "quantitative"}}},
          {"mark": {"type": "text", "fontSize": 14, "fontWeight": "bold", "baseline": "middle"}, "encoding": {"y": {"datum": -3.9}, "text": {"field": "adi"}}}
        ]},
       {"data": {"values": [{"a": "MSTO +", "b": "2Mac:MSTO +", "y": 15.1}]}, "mark": {"type": "rule", "color": "#555555"},
        "encoding": {"x": {"field": "a", "type": "nominal"}, "x2": {"field": "b"}, "y": {"field": "y", "type": "quantitative"}}},
       {"data": {"values": [{"a": "MSTO +", "y": 15.1, "y2": 0.95}, {"a": "2Mac:MSTO +", "y": 15.1, "y2": 14.6}]}, "mark": {"type": "rule", "color": "#555555"},
        "encoding": {"x": {"field": "a", "type": "nominal"}, "y": {"field": "y", "type": "quantitative"}, "y2": {"field": "y2"}}},
       {"data": {"values": [{"x": "2Mac:MSTO -", "y": 15.1, "t": "0.0504"}]}, "mark": {"type": "text", "fontSize": 8, "dy": -4, "baseline": "alphabetic"},
        "encoding": {"x": {"field": "x", "type": "nominal"}, "y": {"field": "y", "type": "quantitative"}, "text": {"field": "t"}}}
    ]
   }
  ],
  "bounds": "flush",
  "spacing": 20,
  "resolve": {"scale": {"fill": "independent"}, "legend": {"fill": "independent"}}
 }
]
}
